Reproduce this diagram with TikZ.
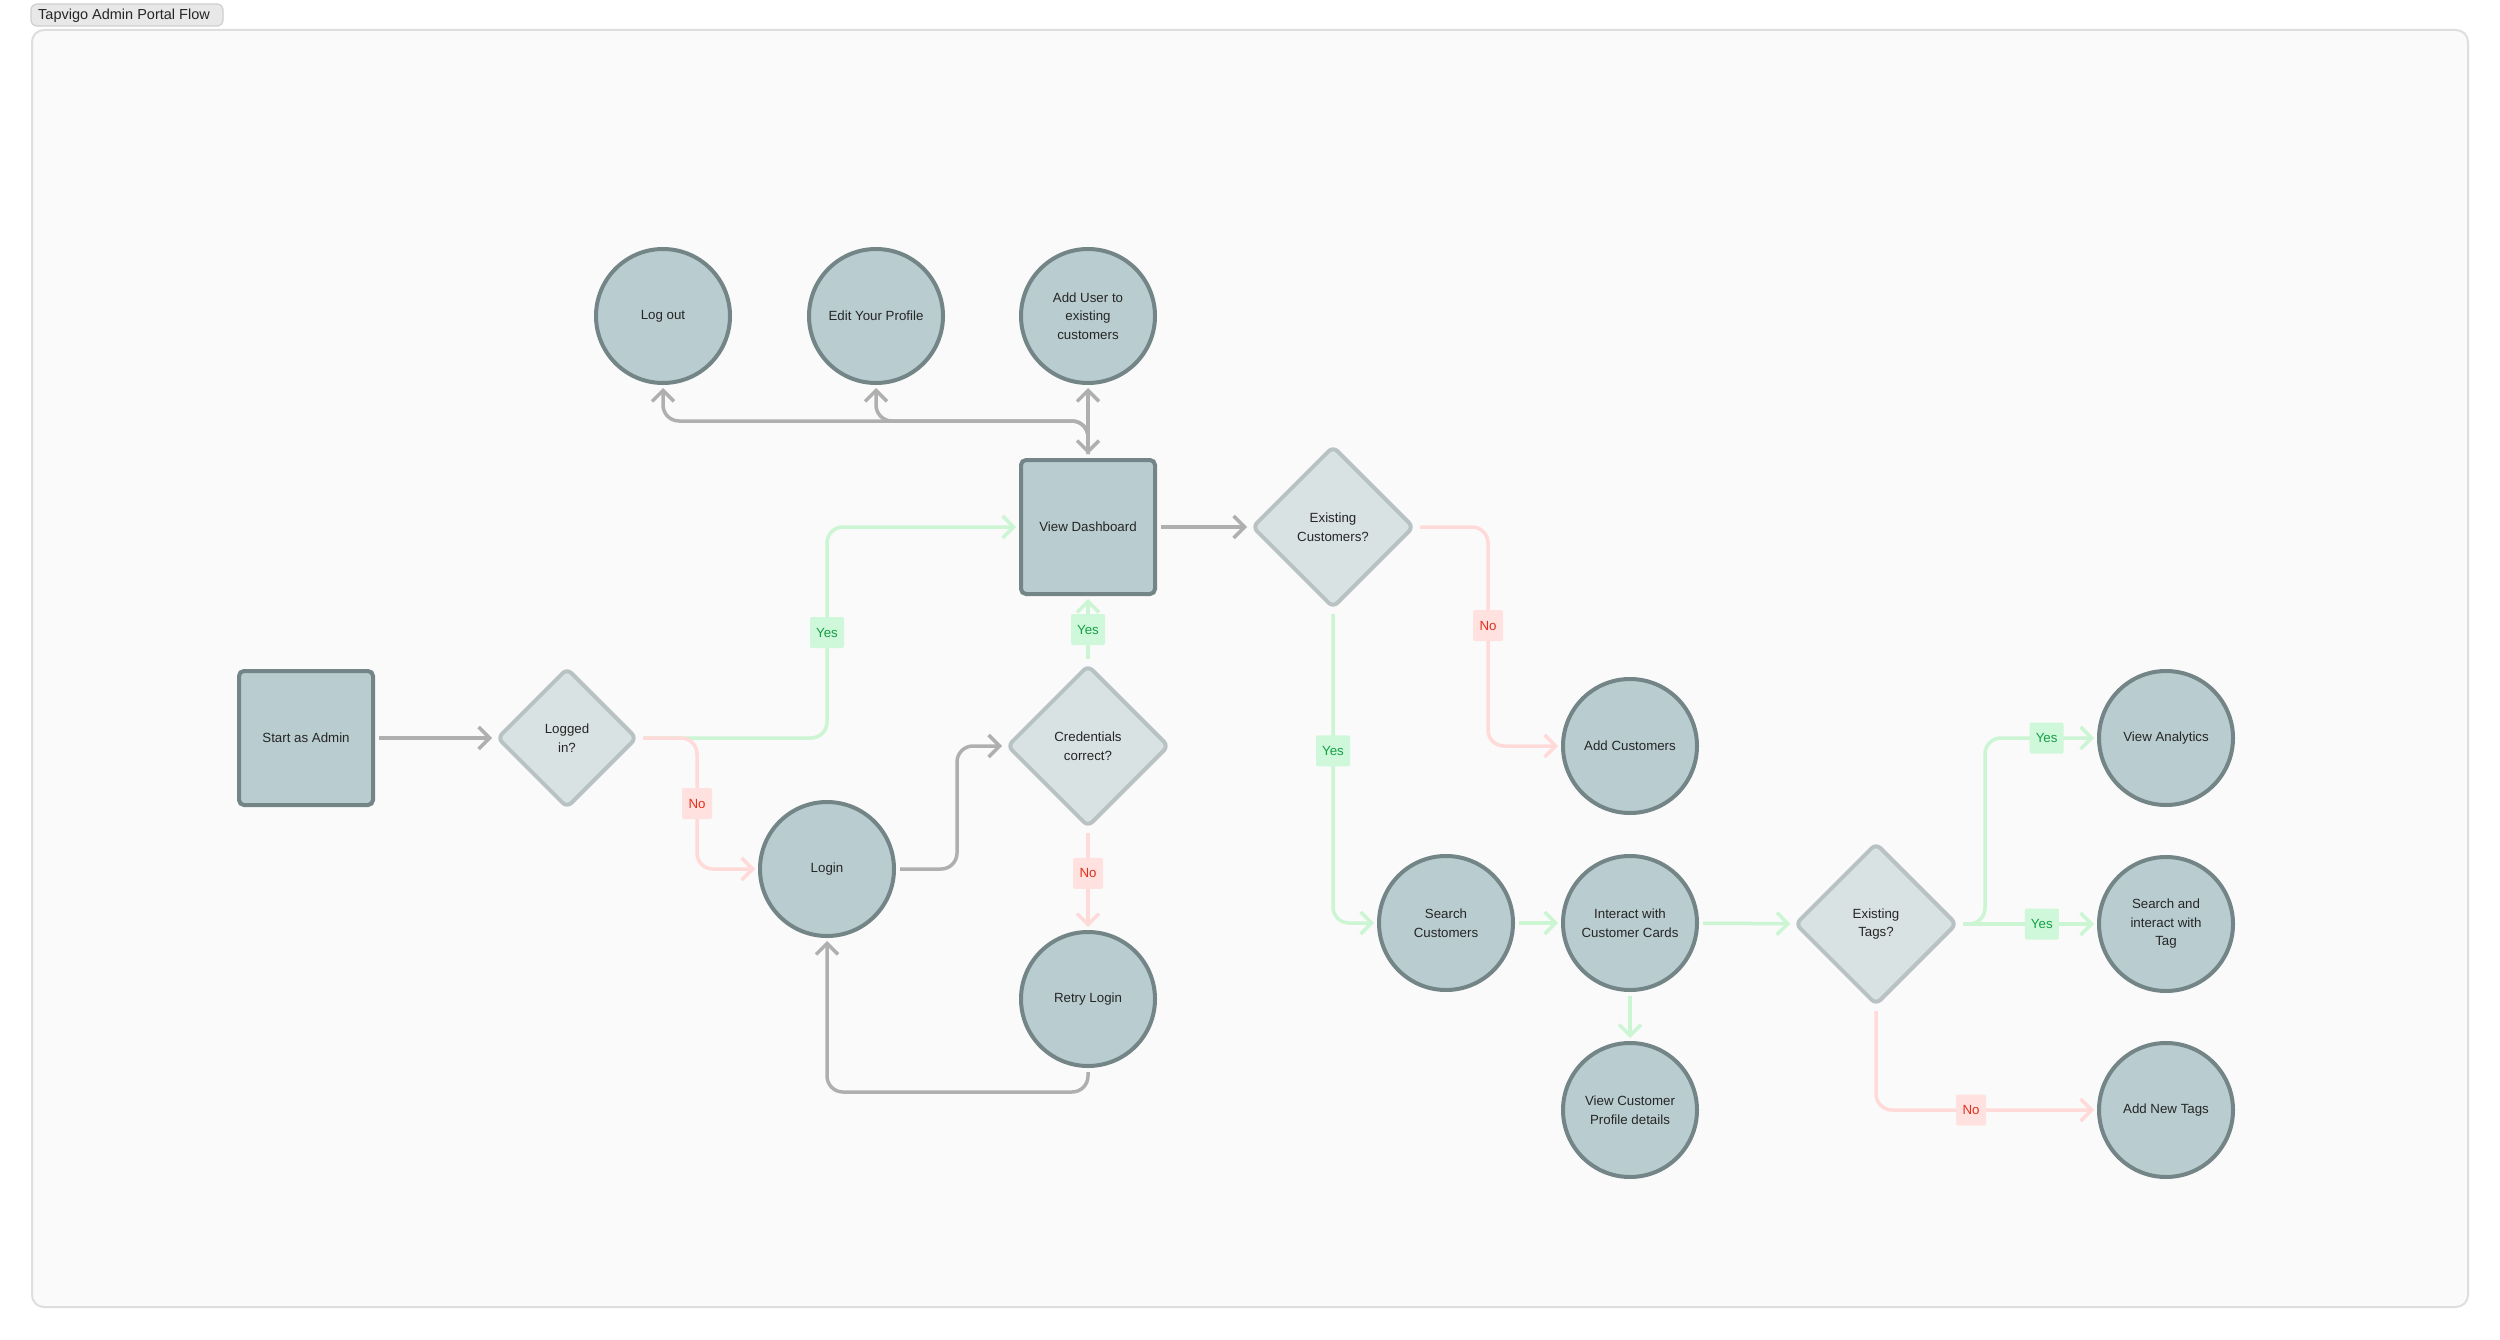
\documentclass[tikz,border=0pt]{standalone}
\usepackage{fontspec}
\setmainfont{Liberation Sans}
\usetikzlibrary{shapes.geometric,arrows.meta}
\definecolor{nodefill}{HTML}{B9CCCF}
\definecolor{nodedraw}{HTML}{748587}
\definecolor{dfill}{HTML}{D9E2E3}
\definecolor{ddraw}{HTML}{B9C2C3}
\definecolor{garrow}{HTML}{AFAFAF}
\definecolor{gline}{HTML}{CBF5D3}
\definecolor{glab}{HTML}{CFF7D9}
\definecolor{gtext}{HTML}{15A047}
\definecolor{rline}{HTML}{FFDAD8}
\definecolor{rlab}{HTML}{FFE1DF}
\definecolor{rtext}{HTML}{E3301C}
\definecolor{txt}{HTML}{262626}
\definecolor{framebg}{HTML}{FAFAFA}
\definecolor{framedraw}{HTML}{DEDEDE}
\definecolor{tagbg}{HTML}{E8E8E8}
\definecolor{tagdraw}{HTML}{CFCFCF}
\begin{document}
\begin{tikzpicture}[x=1pt,y=-1pt,
 >={Straight Barb[length=11pt,width=22pt]},
 txtfont/.style={font=\fontsize{13.3}{18.5}\selectfont, text=txt},
 circ/.style={circle, draw=nodedraw, fill=nodefill, line width=4pt, minimum size=134pt, inner sep=0pt, align=center, txtfont},
 sq/.style={rectangle, rounded corners=5pt, draw=nodedraw, fill=nodefill, line width=4pt, minimum size=134pt, inner sep=0pt, align=center, txtfont},
 dia/.style={diamond, aspect=1, rounded corners=6pt, draw=ddraw, fill=dfill, line width=4pt, minimum size=162pt, inner sep=0pt, align=center, txtfont},
 conn/.style={line width=3.5pt, rounded corners=16pt, shorten >=3pt, shorten <=4pt, ->},
 grey/.style={conn, draw=garrow},
 yesl/.style={conn, draw=gline},
 nol/.style={conn, draw=rline},
 ylab/.style={fill=glab, text=gtext, rounded corners=2pt, minimum width=34pt, minimum height=31pt, inner sep=0pt, font=\fontsize{13.3}{15}\selectfont},
 nlab/.style={fill=rlab, text=rtext, rounded corners=2pt, minimum width=30pt, minimum height=31pt, inner sep=0pt, font=\fontsize{13.3}{15}\selectfont},
]
\useasboundingbox (0,0) rectangle (2500,1340);
\fill[white] (0,0) rectangle (2500,1340);
\draw[fill=framebg, draw=framedraw, line width=2pt, rounded corners=12pt] (32,30) rectangle (2468,1307);
\draw[fill=tagbg, draw=tagdraw, line width=1.2pt, rounded corners=6pt] (31,4) rectangle (223,26);
\node[anchor=west, inner sep=0pt, font=\fontsize{14.5}{16}\selectfont, text=txt] (title) at (38,15.5) {Tapvigo Admin Portal Flow};

% nodes
\node[sq] (start) at (306,738) {Start as Admin};
\node[dia, minimum size=140pt] (log) at (567,738) {Logged\\in?};
\node[circ] (logout) at (663,316) {Log out};
\node[circ] (edit) at (876,316) {Edit Your Profile};
\node[circ] (adduser) at (1088,316) {Add User to\\existing\\customers};
\node[sq] (dash) at (1088,527) {View Dashboard};
\node[dia] (exc) at (1333,527) {Existing\\Customers?};
\node[dia] (cred) at (1088,746) {Credentials\\correct?};
\node[circ] (login) at (827,869) {Login};
\node[circ] (retry) at (1088,999) {Retry Login};
\node[circ] (addc) at (1630,746) {Add Customers};
\node[circ] (search) at (1446,923) {Search\\Customers};
\node[circ] (inter) at (1630,923) {Interact with\\Customer Cards};
\node[circ] (viewprof) at (1630,1110) {View Customer\\Profile details};
\node[dia] (tags) at (1876,924) {Existing\\Tags?};
\node[circ] (analytics) at (2166,738) {View Analytics};
\node[circ] (sitag) at (2166,924) {Search and\\interact with\\Tag};
\node[circ] (addtags) at (2166,1110) {Add New Tags};

% connectors
\draw[grey] (start) -- (log);
\draw[yesl] (log.east) -- (log.east -| login) -- node[ylab]{Yes} (login |- dash) -- (dash.west);
\draw[nol] (log.east) -- (697,738) -- node[nlab]{No} (697,869) -- (login.west);
\draw[grey] (login.east) -- (957,869) -- (957,746) -- (cred.west);
\draw[yesl] (cred.north) -- node[ylab]{Yes} (dash.south);
\draw[nol] (cred.south) -- node[nlab,pos=.44]{No} (retry.north);
\draw[grey] (retry.south) -- (1088,1092) -- (827,1092) -- (login.south);
\draw[grey] (dash.north) -- (1088,421) -- (663,421) -- (logout.south);
\draw[grey] (dash.north) -- (1088,421) -- (876,421) -- (edit.south);
\draw[grey,<->] (dash.north) -- (adduser.south);
\draw[grey] (dash) -- (exc);
\draw[nol] (exc.east) -- (1488,527) -- node[nlab,pos=.45]{No} (1488,746) -- (addc.west);
\draw[yesl] (exc.south) -- node[ylab,pos=.45]{Yes} (1333,923) -- (search.west);
\draw[yesl] (search) -- (inter);
\draw[yesl] (inter) -- (viewprof);
\draw[yesl] (inter) -- (tags);
\draw[yesl] (tags.east) -- (1985,924) -- (1985,738) -- node[ylab,pos=.55]{Yes} (analytics.west);
\draw[yesl] (tags.east) -- node[ylab,pos=.6]{Yes} (sitag.west);
\draw[nol] (tags.south) -- (1876,1110) -- node[nlab,pos=.43]{No} (addtags.west);
\end{tikzpicture}
\end{document}
